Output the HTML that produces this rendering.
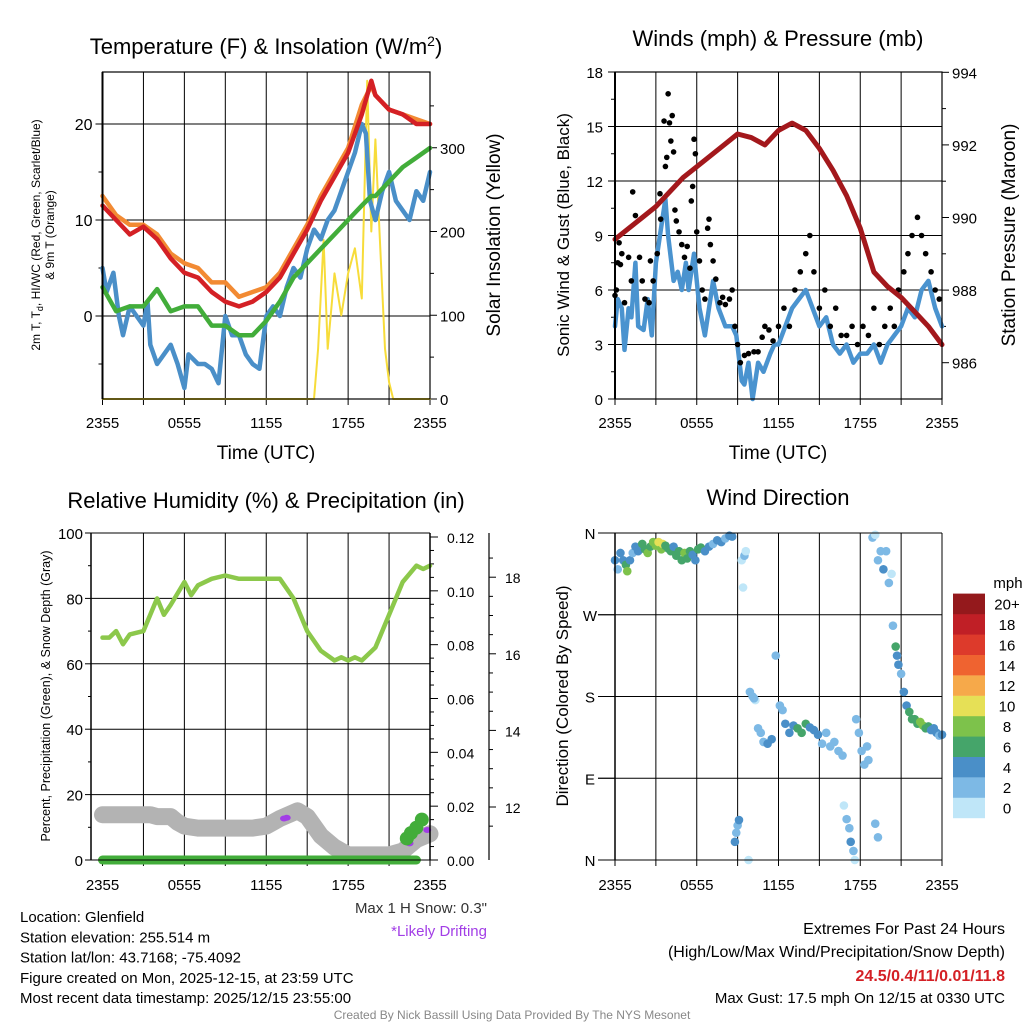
<!DOCTYPE html>
<html><head><meta charset="utf-8"><style>
body{margin:0;background:#fff;}
svg{display:block;font-family:"Liberation Sans",Arial,sans-serif;}
</style></head><body>
<svg id="c" width="1024" height="1024" viewBox="0 0 1024 1024" xmlns="http://www.w3.org/2000/svg"></svg>
<script>
// ---- Panel 1 data: temperatures (F) and insolation ----
const tempT = [0,0.3,0.8,1.2,1.5,2,2.5,3,3.3,3.5,4,4.5,5,5.5,6,6.3,7,7.5,8,8.5,9,9.5,10,10.5,11,11.5,12,12.5,13,13.5,14,14.5,15,15.5,16,16.5,17,17.5,18,18.5,19,19.3,19.6,20,20.5,21,21.5,22,22.5,23,23.5,24];
const tempBlue = [5,2.5,4.5,0,-2,1,0,-1,1.5,-3,-5,-4,-3,-5,-7.5,-4,-5,-5,-5.5,-7,0,-2,-2,-4,-5,-5.5,0,1,0,3,5,4,7,9,8,10,11,13,15,17,20,19,12,10,13,15,12,11,10,13,12,15];
const hourT = [0,1,2,3,4,5,6,7,8,9,10,11,12,13,14,15,16,17,18,19,19.7,20,21,22,23,24];
const tempRed = [11.5,10,8.5,9.3,8,6,4.5,4,2.5,1.5,1,1.5,2.5,4,6.5,9,12,14.5,17,21,24.5,23,21.5,21,20,20];
const tempOrange = [12.5,10.5,9.5,9.5,8.5,6.5,5.5,5,3.5,3.5,2,2.5,3,4.5,7,9.5,12.5,15,17.5,22,24,23,21.5,21,20.5,20];
const tempGreen = [3,0.5,1,1,2.8,0.5,1,1,-1,-1,-2,-2,-0.5,1.5,4,5.5,7,8.5,10,11.5,12.5,12.5,14,15.5,16.5,17.5];
const insT = [0,15.5,15.8,16.2,16.5,17,17.5,18,18.5,19,19.4,19.7,20,20.3,20.7,21,21.3,24];
const insVal = [0,0,60,190,60,150,100,150,180,120,380,200,310,200,60,20,0,0];
// ---- Panel 2 data: wind, gust, pressure ----
const windT = [0,0.2,0.5,0.7,1,1.2,1.5,1.7,2.1,2.4,2.7,3,3.4,3.7,3.9,4.3,4.6,4.9,5.2,5.4,5.8,6.2,6.6,6.9,7.2,7.6,8.1,8.6,8.9,9.3,9.5,9.8,10.1,10.5,10.9,11.4,11.7,12,12.5,13,13.5,14,14.5,15,15.5,16,16.5,17,17.5,18,18.5,19,19.5,20,20.5,21,21.5,22,22.5,23,23.5,24];
const windVal = [4,5.5,5,2.7,5,4.5,7.5,4,3.8,5.5,3.5,7.5,9.5,11,9,6.5,7,6,7.5,6,8,5,3.5,5,6.5,5,4,4,3.5,1,0.8,2,0,2,1.5,2.5,3,3,4,5,5.5,6,5,4,4.5,3,2.5,3,2,2.5,2.5,3,2,3,3.5,4,5,4.5,6,6.5,5,4];
const gustT = [0,0.1,0.2,0.3,0.4,0.5,0.7,1,1.2,1.3,1.5,1.8,2,2.2,2.5,2.6,2.8,3.1,3.3,3.35,3.6,3.7,3.8,3.9,4,4.1,4.2,4.3,4.4,4.5,4.7,4.9,5.1,5.3,5.5,5.6,5.7,5.8,5.9,6,6.2,6.4,6.6,6.8,6.9,7,7.2,7.4,7.7,7.9,8.1,8.4,8.6,8.8,9,9.2,9.5,9.8,10.2,10.5,10.8,11,11.3,11.6,12,12.4,12.8,13.2,13.6,14,14.3,14.6,15,15.4,15.8,16.2,16.6,17,17.4,17.8,18.2,18.6,19,19.4,19.8,20.2,20.5,20.8,21.2,21.5,21.8,22.2,22.5,22.8,23.2,23.5,23.8];
const gustVal = [5.7,6,7.5,8.6,7.4,8,5.3,7.8,6.5,11.4,10.1,7.8,6.5,5.5,5.3,7.6,6.5,8,11.3,9.9,15.3,12.8,13.3,16.8,15.2,14.2,15.6,13.6,10.4,9.8,9.2,8.5,7.8,8.4,7.2,10.9,11.7,14.3,13.5,9.2,7.6,6,5.5,9.4,9.9,8.5,7.6,6.6,5.3,5.6,5.2,5.5,6,4,3,2,2.4,2.5,2.6,2.6,3.4,4,3.8,3.2,4,5,4,6,7,8,9,7,5,6,4,5,3.5,3.5,4,3,4,3.5,5,3,4,5,4,6,7,8,9,10,9,8,7,6,5.5];
const presT = [0,1,2,3,4,5,6,7,8,9,10,11,12,13,14,15,16,17,18,19,20,21,22,23,24];
const presVal = [989.4,989.7,990.0,990.3,990.7,991.1,991.4,991.7,992.0,992.3,992.2,992.0,992.4,992.6,992.4,991.9,991.3,990.6,989.7,988.5,988.1,987.8,987.4,987.0,986.5];
// ---- Panel 3 data: RH, precip, snow depth ----
const rhT = [0,0.5,1,1.5,2,3,4,4.5,5,6,6.5,7,8,9,10,11,12,13,14,15,16,17,17.5,18,18.5,19,20,21,22,23,23.5,24];
const rhVal = [68,68,70,66,69,70,80,75,78,85,81,84,86,87,86,86,86,86,80,70,64,61,62,61,62,61,65,75,85,90,89,90];
const snowT = [0,1,2,3,3.5,4,5,5.5,6,7,8,9,10,11,12,12.5,13,14.3,15,16,17,18,19,20,21,22,23,24];
const snowVal = [11.8,11.8,11.8,11.8,11.8,11.75,11.75,11.6,11.5,11.45,11.45,11.45,11.45,11.45,11.5,11.6,11.7,11.9,11.75,11.25,10.95,10.75,10.75,10.75,10.75,10.85,11.15,11.3];
const precT = [22.3,22.6,23.0,23.4];
const precVal = [0.008,0.01,0.012,0.015];
const driftT = [13.3,13.5,22.5,23.8];
const driftVal = [11.7,11.72,11.05,11.4];
// ---- Panel 4 data: wind direction & speed ----
const dirT = [0,0.2,0.4,0.6,0.8,0.9,1.1,1.3,1.5,1.7,2,2.2,2.4,2.6,2.8,3,3.2,3.4,3.5,3.7,3.9,4.1,4.3,4.5,4.7,4.9,5.1,5.3,5.5,5.7,5.9,6.1,6.3,6.6,6.9,7.2,7.5,7.8,8.1,8.4,8.6,
 8.8,8.9,9.0,9.1,9.3,9.4,9.5,9.6,9.8,
 9.9,10.1,10.3,10.2,10.5,10.7,10.9,11.2,11.5,11.8,12.1,12.3,12.5,12.8,13.1,13.4,13.7,14.0,14.3,14.6,14.9,15.2,15.5,15.8,16.1,16.4,16.7,17.7,17.9,18.1,18.3,18.5,18.6,
 16.8,17.0,17.2,17.3,17.5,17.6,19.1,19.3,
 18.9,19.1,19.3,19.5,19.7,19.9,20.1,20.3,
 20.4,20.6,20.7,20.8,21.0,21.2,21.4,21.6,21.8,22.0,22.2,22.4,22.6,22.8,23.0,23.2,23.4,23.6,23.8,24.0];
const dirVal = [330,320,338,330,325,318,330,338,345,340,348,342,338,345,350,346,350,342,348,346,343,340,345,335,340,330,338,332,340,336,330,342,344,340,345,348,352,350,354,357,356,
 20,30,38,44,330,300,335,340,0,
 185,180,176,178,145,140,130,128,133,225,170,165,150,140,148,145,140,150,146,143,138,128,140,125,130,120,115,155,140,120,105,125,110,
 60,45,35,20,10,0,40,25,
 355,358,330,340,320,340,305,315,
 258,235,225,215,205,185,170,163,155,155,150,152,148,145,147,143,145,140,137,138];
const dirSpd = [4,3,4,5,7,8,4,3,5,4,6,7,8,7,9,8,10,9,10,7,6,7,5,6,7,6,8,7,6,5,4,6,7,5,4,3,4,4,3,4,4,
 4,3,3,4,1,1,3,0,0,
 3,2,1,3,2,2,3,4,4,2,3,2,4,4,5,6,7,6,5,4,4,3,3,2,2,2,2,2,2,2,3,2,2,
 1,2,2,4,3,1,2,3,
 2,1,3,2,4,2,3,1,
 3,6,5,4,3,4,5,6,6,7,7,9,8,6,7,5,4,4,3,4];
const speedColors = ['#bfe6f8','#7db9e5','#4a8fc8','#45a56a','#7dc24b','#e6e056','#f6a94a','#ef6330','#dd3a2b','#c01f26','#94191c'];
const speedLabels = ['0','2','4','6','8','10','12','14','16','18','20+'];

const NS = 'http://www.w3.org/2000/svg';
const svg = document.getElementById('c');
function mk(tag, attrs, parent, text){
  const e = document.createElementNS(NS, tag);
  for (const k in attrs) e.setAttribute(k, attrs[k]);
  if (text !== undefined) e.textContent = text;
  (parent || svg).appendChild(e);
  return e;
}
function grp(name){
  const g = mk('g', {});
  
  
  return g;
}
function txt(g, x, y, s, size, anchor, name, extra){
  const a = {x:x, y:y, 'font-size':size, 'text-anchor':anchor||'middle', fill:'#000'};
  if (extra) for (const k in extra) a[k] = extra[k];
  const t = mk('text', a, g, s);
  
  
  return t;
}
function line(g, x1, y1, x2, y2, col, w){
  return mk('line', {x1:x1, y1:y1, x2:x2, y2:y2, stroke:col||'#000', 'stroke-width':w||1}, g);
}
function path(g, xs, ys, fx, fy, col, w, name){
  let d = '';
  for (let i = 0; i < xs.length; i++) d += (i ? 'L' : 'M') + fx(xs[i]).toFixed(1) + ',' + fy(ys[i]).toFixed(1);
  const p = mk('path', {d:d, fill:'none', stroke:col, 'stroke-width':w, 'stroke-linejoin':'round', 'stroke-linecap':'round'}, g);
  
  
  return p;
}
const timeLabels = ['2355','0555','1155','1755','2355'];

// ===== Panel 1 =====
(function(){
  const g = grp('temperature-panel');
  const L = 102.5, R = 430, T = 72, B = 399;
  const x = t => L + t * (R - L) / 24;
  const yT = v => 316 - v * 9.6;
  const yS = v => 399 - v * 0.8375;
  for (let k = 1; k < 8; k++) line(g, x(k * 3), T, x(k * 3), B, '#000', 1);
  [0,10,20].forEach(v => line(g, L, yT(v), R, yT(v), '#000', 1));
  [0,10,20].forEach(v => { line(g, L - 7, yT(v), L, yT(v)); txt(g, L - 10, yT(v) + 6, String(v), 16, 'end', 'left-tick-label'); });
  [-5,5,15].forEach(v => line(g, L - 4, yT(v), L, yT(v)));
  [0,100,200,300].forEach(v => { line(g, R, yS(v), R + 7, yS(v)); txt(g, R + 10, yS(v) + 6, String(v), 15, 'start', 'right-tick-label'); });
  [50,150,250,350].forEach(v => line(g, R, yS(v), R + 4, yS(v)));
  for (let k = 0; k <= 8; k++) line(g, x(k * 3), B, x(k * 3), B + 6);
  timeLabels.forEach((s, i) => txt(g, x(i * 6), B + 29, s, 15, 'middle', 'x-tick-label'));
  path(g, insT, insVal, x, yS, '#f7dc3a', 2, 'insolation-line');
  path(g, tempT, tempBlue, x, yT, '#4a8fc8', 4.5, 'temperature-line');
  path(g, hourT, tempGreen, x, yT, '#42ad3a', 4.5, 'dewpoint-line');
  path(g, hourT, tempOrange, x, yT, '#f28a33', 4.5, 'temp-9m-line');
  path(g, hourT, tempRed, x, yT, '#d42025', 4.5, 'heat-index-line');
  mk('rect', {x:L, y:T, width:R - L, height:B - T, fill:'none', stroke:'#000', 'stroke-width':1.2}, g);
  line(g, L, T, L, B, '#000', 2);
  const tt = txt(g, 266, 54, 'Temperature (F) & Insolation (W/m', 22, 'middle', 'temperature-title');
  mk('tspan', {dy:-8, 'font-size':14}, tt, '2');
  mk('tspan', {dy:8}, tt, ')');
  txt(g, 266, 459, 'Time (UTC)', 19, 'middle', 'x-axis-title');
  const yl = txt(g, 0, 0, '', 12, 'middle', 'left-axis-title', {transform:'translate(40,235) rotate(-90)'});
  yl.textContent = '2m T, T';
  mk('tspan', {dy:3, 'font-size':9}, yl, 'd');
  mk('tspan', {dy:-3}, yl, ', HI/WC (Red, Green, Scarlet/Blue)');
  txt(g, 0, 0, '& 9m T (Orange)', 12, 'middle', 'left-axis-title-line2', {transform:'translate(54,235) rotate(-90)'});
  txt(g, 0, 0, 'Solar Insolation (Yellow)', 19, 'middle', 'right-axis-title', {transform:'translate(500,235) rotate(-90)'});
})();

// ===== Panel 2 =====
(function(){
  const g = grp('wind-pressure-panel');
  const L = 615, R = 942, T = 72, B = 399;
  const x = t => L + t * (R - L) / 24;
  const yW = v => B - v * (B - T) / 18;
  const yP = v => B - (v - 985) * 36.3;
  for (let k = 1; k < 8; k++) line(g, x(k * 3), T, x(k * 3), B);
  [3,6,9,12,15].forEach(v => line(g, L, yW(v), R, yW(v)));
  for (let v = 0; v <= 18; v += 3) { line(g, L - 7, yW(v), L, yW(v)); txt(g, L - 12, yW(v) + 6, String(v), 15, 'end', 'left-tick-label'); }
  for (let v = 1.5; v < 18; v += 3) line(g, L - 4, yW(v), L, yW(v));
  [986,988,990,992,994].forEach(v => { line(g, R, yP(v), R + 7, yP(v)); txt(g, R + 10, yP(v) + 6, String(v), 15, 'start', 'right-tick-label'); });
  [987,989,991,993].forEach(v => line(g, R, yP(v), R + 4, yP(v)));
  for (let k = 0; k <= 8; k++) line(g, x(k * 3), B, x(k * 3), B + 6);
  timeLabels.forEach((s, i) => txt(g, x(i * 6), B + 29, s, 15, 'middle', 'x-tick-label'));
  path(g, windT, windVal, x, yW, '#4a93cf', 4.5, 'wind-speed-line');
  for (let i = 0; i < gustT.length; i++) {
    const c = mk('circle', {cx:x(gustT[i]), cy:yW(gustVal[i]), r:2.8, fill:'#000'}, g);
    
    
  }
  path(g, presT, presVal, x, yP, '#a3181c', 5, 'pressure-line');
  mk('rect', {x:L, y:T, width:R - L, height:B - T, fill:'none', stroke:'#000', 'stroke-width':1.2}, g);
  line(g, L, T, L, B, '#000', 2);
  txt(g, 778, 46, 'Winds (mph) & Pressure (mb)', 22, 'middle', 'wind-title');
  txt(g, 778, 459, 'Time (UTC)', 19, 'middle', 'x-axis-title');
  txt(g, 0, 0, 'Sonic Wind & Gust (Blue, Black)', 17, 'middle', 'left-axis-title', {transform:'translate(569,235) rotate(-90)'});
  txt(g, 0, 0, 'Station Pressure (Maroon)', 19, 'middle', 'right-axis-title', {transform:'translate(1015,235) rotate(-90)'});
})();

// ===== Panel 3 =====
(function(){
  const g = grp('humidity-panel');
  const L = 102.5, R = 430, T = 533, B = 860, AX = 91;
  const x = t => L + t * (R - L) / 24;
  const yRH = v => B - v * 3.27;
  const yPr = v => B - v * (B - 537) / 0.12;
  const ySn = v => 807 - (v - 12) * 38.3;
  for (let k = 1; k < 8; k++) line(g, x(k * 3), T, x(k * 3), B);
  [20,40,60,80].forEach(v => line(g, AX, yRH(v), R, yRH(v)));
  for (let v = 0; v <= 100; v += 20) { line(g, AX - 6, yRH(v), AX, yRH(v)); txt(g, AX - 8, yRH(v) + 6, String(v), 15, 'end', 'left-tick-label'); }
  for (let v = 10; v < 100; v += 20) line(g, AX - 3, yRH(v), AX, yRH(v));
  for (let i = 0; i <= 6; i++) { const v = i * 0.02; line(g, R, yPr(v), R + 8, yPr(v)); txt(g, R + 17, yPr(v) + 6, v.toFixed(2), 14, 'start', 'precip-tick-label'); }
  for (let i = 1; i < 24; i++) if (i % 4) line(g, R, yPr(i * 0.005), R + 4, yPr(i * 0.005));
  line(g, 489, T, 489, B, '#000', 1.2);
  [12,14,16,18].forEach(v => { line(g, 489, ySn(v), 496, ySn(v)); txt(g, 505, ySn(v) + 6, String(v), 14, 'start', 'snow-tick-label'); });
  [11.5,12.5,13,13.5,14.5,15,15.5,16.5,17,17.5,18.5].forEach(v => line(g, 489, ySn(v), 493, ySn(v)));
  for (let k = 0; k <= 8; k++) line(g, x(k * 3), B, x(k * 3), B + 6);
  timeLabels.forEach((s, i) => txt(g, x(i * 6), B + 30, s, 15, 'middle', 'x-tick-label'));
  path(g, rhT, rhVal, x, yRH, '#8cc84b', 4.5, 'humidity-line');
  path(g, snowT, snowVal, x, ySn, '#b3b3b3', 17, 'snow-depth-line');
  for (let i = 0; i < driftT.length; i++) {
    const c = mk('ellipse', {cx:x(driftT[i]), cy:ySn(driftVal[i]), rx:4, ry:3, fill:'#a23ee6'}, g);
    
    
  }
  path(g, [0,23], [0,0], x, yPr, '#42ad3a', 9, 'precip-baseline');
  for (let i = 0; i < precT.length; i++) {
    const c = mk('circle', {cx:x(precT[i]), cy:yPr(precVal[i]), r:7, fill:'#42ad3a'}, g);
    
    
  }
  line(g, AX, T, R, T); line(g, R, T, R, B, '#000', 1.5); line(g, AX, B, R, B);
  line(g, AX, T, AX, B, '#000', 1.5);
  txt(g, 266, 508, 'Relative Humidity (%) & Precipitation (in)', 22, 'middle', 'humidity-title');
  txt(g, 0, 0, 'Percent, Precipitation (Green), & Snow Depth (Gray)', 12.5, 'middle', 'left-axis-title', {transform:'translate(50,696) rotate(-90)'});
  txt(g, 487, 913, 'Max 1 H Snow: 0.3"', 15, 'end', 'max-snow-note', {fill:'#333'});
  txt(g, 487, 936, '*Likely Drifting', 15, 'end', 'drifting-note', {fill:'#a23ee6'});
})();

// ===== Panel 4 =====
(function(){
  const g = grp('wind-direction-panel');
  const L = 615, R = 942, T = 533, B = 860, AX = 598;
  const x = t => L + t * (R - L) / 24;
  const yD = d => B - d * (B - T) / 360;
  for (let k = 1; k < 8; k++) line(g, x(k * 3), T, x(k * 3), B);
  [90,180,270].forEach(v => line(g, AX, yD(v), R, yD(v)));
  ['N','E','S','W','N'].forEach((s, i) => { line(g, AX, yD(i * 90), L, yD(i * 90)); txt(g, 590, yD(i * 90) + 6, s, 15, 'middle', 'direction-tick-label'); });
  for (let k = 0; k <= 8; k++) line(g, x(k * 3), B, x(k * 3), B + 6);
  timeLabels.forEach((s, i) => txt(g, x(i * 6), B + 30, s, 15, 'middle', 'x-tick-label'));
  for (let i = 0; i < dirT.length; i++) {
    const bin = Math.min(10, Math.max(0, Math.floor(dirSpd[i] / 2)));
    const c = mk('circle', {cx:x(dirT[i]), cy:yD(dirVal[i]), r:4.3, fill:speedColors[bin]}, g);
    
    
  }
  line(g, L, T, R, T); line(g, R, T, R, B); line(g, L, B, R, B);
  line(g, L, T, L, B, '#000', 1.5);
  txt(g, 778, 505, 'Wind Direction', 22, 'middle', 'wind-direction-title');
  txt(g, 0, 0, 'Direction (Colored By Speed)', 17, 'middle', 'left-axis-title', {transform:'translate(568,696) rotate(-90)'});
  const lg = grp('speed-legend');
  txt(lg, 1008, 588, 'mph', 15, 'middle', 'legend-unit');
  for (let i = 0; i < speedColors.length; i++) {
    const yy = 818 - (i + 1) * 20.4;
    const r = mk('rect', {x:953, y:yy, width:32, height:20.6, fill:speedColors[i]}, lg);
    
    
    txt(lg, 1007, yy + 16, speedLabels[i], 15, 'middle', 'legend-label');
  }
})();

// ===== Footer text =====
(function(){
  const g = grp('station-info');
  const info = ['Location: Glenfield','Station elevation: 255.514 m','Station lat/lon: 43.7168; -75.4092','Figure created on Mon, 2025-12-15, at 23:59 UTC','Most recent data timestamp: 2025/12/15 23:55:00'];
  info.forEach((s, i) => txt(g, 20, 922 + i * 20.3, s, 15, 'start', 'station-info-line'));
  const e = grp('extremes-info');
  txt(e, 1005, 934, 'Extremes For Past 24 Hours', 16, 'end', 'extremes-title');
  txt(e, 1005, 957, '(High/Low/Max Wind/Precipitation/Snow Depth)', 16, 'end', 'extremes-subtitle');
  txt(e, 1005, 981, '24.5/0.4/11/0.01/11.8', 16, 'end', 'extremes-values', {fill:'#d42025', 'font-weight':'bold'});
  txt(e, 1005, 1003, 'Max Gust: 17.5 mph On 12/15 at 0330 UTC', 15, 'end', 'max-gust');
  txt(g, 512, 1019, 'Created By Nick Bassill Using Data Provided By The NYS Mesonet', 12, 'middle', 'credit-line', {fill:'#888'});
})();
</script>
</body></html>
